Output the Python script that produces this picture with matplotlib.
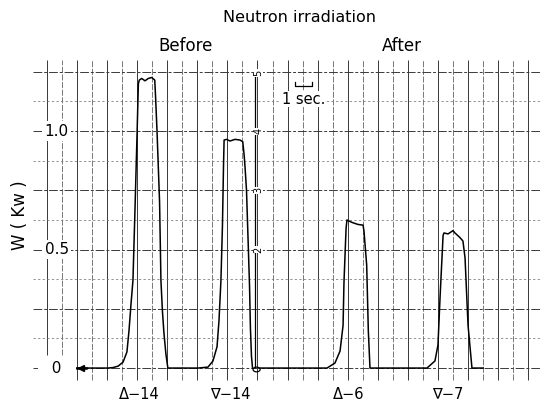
import matplotlib
matplotlib.use("Agg")
import matplotlib.pyplot as plt
from matplotlib.patches import Ellipse

# chart divisions along x (1 division ~ 1 sec), W in kW along y
grid_x = list(range(-2, 31))
grid_w = [0, 0.125, 0.25, 0.375, 0.5, 0.625, 0.75, 0.875, 1.0, 1.125, 1.25]

tick_w = [1.0, 0.5, 0]
tick_labels = ["1.0", "0.5", "  0  "]

# trace 1: before irradiation (pulses A-14 and V-14)
t1 = [0, 2.06, 2.39, 2.73, 3.06, 3.32, 3.46, 3.59, 3.72, 3.86, 3.99, 4.08, 4.14,
      4.30, 4.52, 4.74, 4.97, 5.17, 5.22, 5.32, 5.49, 5.58, 5.68, 5.78, 5.91, 6.04,
      8.05, 8.71, 9.04, 9.31, 9.44, 9.57, 9.67, 9.74, 9.78, 9.95, 10.17, 10.51,
      10.84, 11.02, 11.11, 11.17, 11.27, 11.37, 11.47, 11.53, 11.60, 11.67]
w1 = [0, 0, 0.002, 0.008, 0.025, 0.068, 0.16, 0.27, 0.37, 0.68, 0.98, 1.2, 1.215,
      1.222, 1.212, 1.222, 1.226, 1.215, 1.15, 1.0, 0.7, 0.37, 0.24, 0.148, 0.06, 0,
      0, 0.004, 0.03, 0.09, 0.2, 0.37, 0.6, 0.85, 0.962, 0.965, 0.958, 0.965,
      0.962, 0.955, 0.9, 0.85, 0.75, 0.55, 0.35, 0.17, 0.05, 0]

# trace 2: after irradiation (pulses A-6 and V-7)
t2 = [12.17, 16.62, 17.15, 17.49, 17.69, 17.75, 17.89, 17.95, 18.09, 18.35, 18.68,
      19.02, 19.08, 19.26, 19.37, 19.48,
      23.27, 23.80, 24.00, 24.14, 24.34, 24.40, 24.67, 25.00, 25.13, 25.47, 25.66,
      25.80, 26.00, 26.26, 27.0]
w2 = [0, 0, 0.021, 0.072, 0.18, 0.36, 0.59, 0.625, 0.62, 0.613, 0.606,
      0.603, 0.578, 0.435, 0.156, 0,
      0, 0.03, 0.097, 0.3, 0.56, 0.57, 0.566, 0.58, 0.57, 0.55, 0.536,
      0.465, 0.18, 0, 0]

# event marker pen line with its numbers
marker_t = 11.84
marker_w = [1.245, 1.0, 0.75, 0.5]
marker_txt = ["5", "4", "3", "2"]

pulse_names = ["\u0394\u221214", "\u2207\u221214", "\u0394\u22126", "\u2207\u22127"]
pulse_pos = [4.12, 10.17, 18.08, 24.67]

fig = plt.figure(figsize=(5.44, 4.01), dpi=100)
ax = fig.add_axes([0, 0, 1, 1])
ax.set_xlim(-5.12, 31.05)
ax.set_ylim(-0.139, 1.553)
ax.axis("off")

# recorder paper grid
for x in grid_x:
    bottom = 0.055 if x < 0 else -0.05
    if x % 2 == 0:
        ax.vlines(x, bottom, 1.30, color="#2a2a2a", lw=0.65, zorder=1)
    else:
        ax.vlines(x, bottom, 1.30, color="#555555", lw=0.55,
                  linestyles=(0, (8, 2)), zorder=1)

for w in grid_w:
    if abs(w / 0.25 - round(w / 0.25)) < 1e-6:
        ax.hlines(w, -2.93, 30.8, color="#3a3a3a", lw=0.7,
                  linestyles=(0, (9, 2, 3, 2)), zorder=1)
    else:
        ax.hlines(w, -2.93, 30.8, color="#777777", lw=0.55,
                  linestyles=(0, (3, 3)), zorder=1)

for w, lab in zip(tick_w, tick_labels):
    ax.text(-1.35, w, lab, ha="center", va="center", fontsize=11,
            bbox=dict(facecolor="white", edgecolor="none", pad=1.5), zorder=3)
# white out the zero line left of the chart start
ax.hlines(0, -2.6, -0.05, color="white", lw=3, zorder=2)

# traces
ax.plot(t1, w1, color="black", lw=1.1, zorder=4)
ax.plot(t2, w2, color="black", lw=1.1, zorder=4)
ax.plot([0.25], [0], marker="<", color="black", markersize=4, zorder=5)
ax.plot([0, 0.6], [0, 0], color="black", lw=1.8, zorder=5)

ax.vlines(marker_t, 0, 1.245, color="black", lw=0.9, zorder=4)
ax.add_patch(Ellipse((11.94, -0.006), 0.47, 0.02, fill=False,
                     edgecolor="black", lw=0.9, zorder=5))
for w, s in zip(marker_w, marker_txt):
    ax.text(marker_t + 0.2, w, s, rotation=90, fontsize=7, ha="center",
            va="center", zorder=5,
            bbox=dict(facecolor="white", edgecolor="none", pad=0.3))

# time scale bar
ax.plot([14.5, 14.5, 15.6, 15.6], [1.205, 1.19, 1.19, 1.205], color="black", lw=0.9, zorder=5)
ax.text(13.6, 1.135, "1 sec.", fontsize=10.5, ha="left", va="center", zorder=5,
        bbox=dict(facecolor="white", edgecolor="none", pad=0.5))

# labels
ax.text(14.8, 1.478, "Neutron irradiation", fontsize=11.5, ha="center", va="center")
ax.text(7.2, 1.358, "Before", fontsize=12, ha="center", va="center")
ax.text(21.6, 1.358, "After", fontsize=12, ha="center", va="center")
ax.text(-3.8, 0.645, "W ( Kw )", rotation=90, fontsize=12, ha="center", va="center")
for x, name in zip(pulse_pos, pulse_names):
    ax.text(x, -0.11, name, fontsize=10.5, ha="center", va="center")

fig.savefig("out.png", dpi=100)
